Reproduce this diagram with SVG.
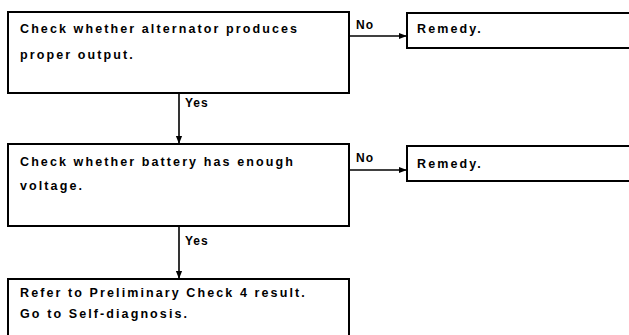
<svg xmlns="http://www.w3.org/2000/svg" width="629" height="335" viewBox="0 0 629 335">
<style>
.box{fill:#fff;stroke:#000;stroke-width:2}
.t{font-family:"Liberation Sans",Arial,sans-serif;font-weight:bold;font-size:12.5px;letter-spacing:2.1px;fill:#000}
.lbl{font-family:"Liberation Sans",Arial,sans-serif;font-weight:bold;font-size:12px;letter-spacing:1px;fill:#000}
.ln{stroke:#000;stroke-width:1.6;fill:none}
</style>
<defs>
<marker id="ah" viewBox="0 0 10 10" refX="9" refY="5" markerWidth="8" markerHeight="8" markerUnits="userSpaceOnUse" orient="auto">
<path d="M0,1 L10,5 L0,9 Z" fill="#000"/>
</marker>
</defs>
<rect width="629" height="335" fill="#fff"/>
<g id="check-alternator">
<rect class="box" x="8" y="12" width="341" height="81"/>
<text class="t" x="20" y="33">Check whether alternator produces</text>
<text class="t" x="20" y="59">proper output.</text>
</g>
<g id="remedy-1">
<rect class="box" x="407" y="13" width="240" height="35"/>
<text class="t" x="417" y="33">Remedy.</text>
</g>
<g id="check-battery">
<rect class="box" x="8" y="144" width="341" height="82"/>
<text class="t" x="20" y="166">Check whether battery has enough</text>
<text class="t" x="20" y="190">voltage.</text>
</g>
<g id="remedy-2">
<rect class="box" x="407" y="146" width="240" height="35"/>
<text class="t" x="417" y="168">Remedy.</text>
</g>
<g id="self-diagnosis">
<rect class="box" x="8" y="279" width="341" height="70"/>
<text class="t" x="20" y="297">Refer to Preliminary Check 4 result.</text>
<text class="t" x="20" y="318">Go to Self-diagnosis.</text>
</g>
<g id="connectors">
<line class="ln" x1="349" y1="36" x2="406" y2="36" marker-end="url(#ah)"/>
<line class="ln" x1="349" y1="170" x2="406" y2="170" marker-end="url(#ah)"/>
<line class="ln" x1="179" y1="93" x2="179" y2="143" marker-end="url(#ah)"/>
<line class="ln" x1="179" y1="226" x2="179" y2="278" marker-end="url(#ah)"/>
<text class="lbl" x="356" y="29">No</text>
<text class="lbl" x="356" y="162">No</text>
<text class="lbl" x="185" y="107">Yes</text>
<text class="lbl" x="185" y="245">Yes</text>
</g>
</svg>
